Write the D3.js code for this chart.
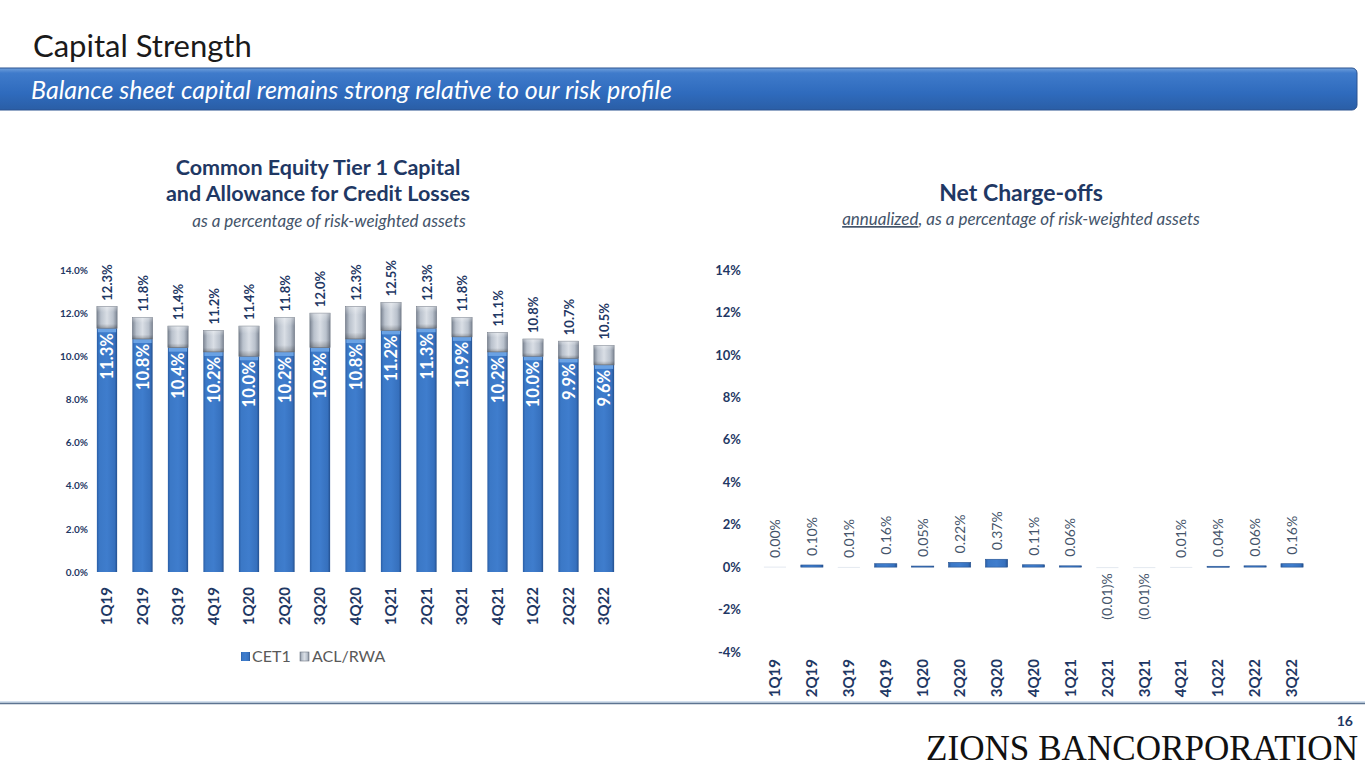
<!DOCTYPE html>
<html>
<head>
<meta charset="utf-8">
<script src="https://cdn.jsdelivr.net/npm/d3@7"></script>
<style>
  body { margin: 0; background: #fff; }
  svg { display: block; font-family: Lato, "Open Sans", sans-serif; }
</style>
</head>
<body>
<svg id="chart" width="1365" height="768"></svg>
<script>
// quarters shared by both charts
var quarters = ["1Q19","2Q19","3Q19","4Q19","1Q20","2Q20","3Q20","4Q20","1Q21","2Q21","3Q21","4Q21","1Q22","2Q22","3Q22"];
// CET1 ratio and ACL/RWA (%)
var cet1 = [11.3,10.8,10.4,10.2,10.0,10.2,10.4,10.8,11.2,11.3,10.9,10.2,10.0,9.9,9.6];
var aclRwa = [1.0,1.0,1.0,1.0,1.4,1.6,1.6,1.5,1.3,1.0,0.9,0.9,0.8,0.8,0.9];
// net charge-offs, annualized (%)
var nco = [0.00,0.10,0.01,0.16,0.05,0.22,0.37,0.11,0.06,-0.01,-0.01,0.01,0.04,0.06,0.16];
var leftTicks = [0,2,4,6,8,10,12,14];
var rightTicks = [-4,-2,0,2,4,6,8,10,12,14];

var navy = "#1f3864";
var svg = d3.select("#chart");
var defs = svg.append("defs");

// gradients for the bevelled bars
function hGrad(id, stops) {
  var g = defs.append("linearGradient").attr("id", id).attr("x1", 0).attr("x2", 1).attr("y1", 0).attr("y2", 0);
  stops.forEach(function(s) { g.append("stop").attr("offset", s[0]).attr("stop-color", s[1]); });
}
hGrad("blueGrad", [[0,"#2a5ea6"],[0.12,"#3b78c6"],[0.5,"#3f7dcd"],[0.88,"#3670bd"],[1,"#234f8e"]]);
hGrad("greyGrad", [[0,"#7d8694"],[0.2,"#b9c1cc"],[0.5,"#d9dee5"],[0.8,"#b9c1cc"],[1,"#7d8694"]]);
var vg = defs.append("linearGradient").attr("id", "greyShade").attr("x1", 0).attr("x2", 0).attr("y1", 0).attr("y2", 1);
vg.append("stop").attr("offset", 0).attr("stop-color", "#ffffff").attr("stop-opacity", 0.35);
vg.append("stop").attr("offset", 0.25).attr("stop-color", "#ffffff").attr("stop-opacity", 0);
vg.append("stop").attr("offset", 0.8).attr("stop-color", "#000000").attr("stop-opacity", 0);
vg.append("stop").attr("offset", 1).attr("stop-color", "#000000").attr("stop-opacity", 0.25);
var bb = defs.append("linearGradient").attr("id", "bannerGrad").attr("x1", 0).attr("x2", 0).attr("y1", 0).attr("y2", 1);
bb.append("stop").attr("offset", 0).attr("stop-color", "#6fa0dc");
bb.append("stop").attr("offset", 0.12).attr("stop-color", "#3f7bcb");
bb.append("stop").attr("offset", 0.6).attr("stop-color", "#2f6bbd");
bb.append("stop").attr("offset", 1).attr("stop-color", "#2a5ea6");

// page header
svg.append("text").attr("x", 33).attr("y", 57).attr("font-size", 31).attr("fill", "#1a1a1a").text("Capital Strength");
svg.append("rect").attr("x", -10).attr("y", 68).attr("width", 1367).attr("height", 42).attr("rx", 5)
  .attr("fill", "url(#bannerGrad)").attr("stroke", "#2a5290").attr("stroke-width", 1);
svg.append("text").attr("x", 31).attr("y", 99).attr("font-size", 25).attr("font-style", "italic")
  .attr("fill", "#fff").text("Balance sheet capital remains strong relative to our risk profile");

// ---------- left chart ----------
var xL = d3.scaleBand().domain(quarters).range([89.25, 621.75]).paddingInner(0.43).paddingOuter(0.215);
var yL = d3.scaleLinear().domain([0, 14]).range([572, 270]);

svg.append("text").attr("x", 318).attr("y", 175).attr("text-anchor", "middle").attr("font-size", 21.5)
  .attr("font-weight", "bold").attr("fill", navy).text("Common Equity Tier 1 Capital");
svg.append("text").attr("x", 318).attr("y", 201).attr("text-anchor", "middle").attr("font-size", 21.5)
  .attr("font-weight", "bold").attr("fill", navy).text("and Allowance for Credit Losses");
svg.append("text").attr("x", 329).attr("y", 227).attr("text-anchor", "middle").attr("font-size", 17)
  .attr("font-style", "italic").attr("fill", "#44546a").text("as a percentage of risk-weighted assets");

var yAxisL = svg.append("g").attr("transform", "translate(88,0)")
  .call(d3.axisLeft(yL).tickValues(leftTicks).tickSize(0).tickPadding(0).tickFormat(function(d) { return d3.format(".1f")(d) + "%"; }));
yAxisL.select(".domain").remove();
yAxisL.selectAll("text").attr("font-size", 10).attr("font-weight", "bold").attr("fill", navy).attr("font-family", "Lato");

var leftData = quarters.map(function(q, i) { return {q: q, cet1: cet1[i], acl: aclRwa[i], total: cet1[i] + aclRwa[i]}; });

var gL = svg.append("g");
gL.selectAll("rect.cet1").data(leftData).enter().append("rect").attr("class", "cet1")
  .attr("x", function(d) { return xL(d.q); }).attr("width", xL.bandwidth())
  .attr("y", function(d) { return yL(d.cet1); }).attr("height", function(d) { return yL(0) - yL(d.cet1); })
  .attr("fill", "url(#blueGrad)");
gL.selectAll("rect.cetTop").data(leftData).enter().append("rect").attr("class", "cetTop")
  .attr("x", function(d) { return xL(d.q) + 1; }).attr("width", xL.bandwidth() - 2)
  .attr("y", function(d) { return yL(d.cet1); }).attr("height", 4)
  .attr("fill", "#6aa2e4");
gL.selectAll("rect.acl").data(leftData).enter().append("rect").attr("class", "acl")
  .attr("x", function(d) { return xL(d.q); }).attr("width", xL.bandwidth())
  .attr("y", function(d) { return yL(d.total); }).attr("height", function(d) { return yL(d.cet1) - yL(d.total); })
  .attr("fill", "url(#greyGrad)").attr("stroke", "#6f7784").attr("stroke-width", 0.6);
gL.selectAll("rect.aclShade").data(leftData).enter().append("rect").attr("class", "aclShade")
  .attr("x", function(d) { return xL(d.q); }).attr("width", xL.bandwidth())
  .attr("y", function(d) { return yL(d.total); }).attr("height", function(d) { return yL(d.cet1) - yL(d.total); })
  .attr("fill", "url(#greyShade)");

// total labels above the bars
gL.selectAll("text.total").data(leftData).enter().append("text").attr("class", "total")
  .attr("transform", function(d) { return "translate(" + (xL(d.q) + xL.bandwidth() / 2 + 5) + "," + (yL(d.total) - 6) + ") rotate(-90)"; })
  .attr("font-size", 13).attr("font-weight", "bold").attr("fill", navy)
  .text(function(d) { return d3.format(".1f")(d.total) + "%"; });
// CET1 labels inside the bars
gL.selectAll("text.inner").data(leftData).enter().append("text").attr("class", "inner")
  .attr("transform", function(d) { return "translate(" + (xL(d.q) + xL.bandwidth() / 2 + 6) + "," + (yL(d.cet1) + 5) + ") rotate(-90)"; })
  .attr("text-anchor", "end").attr("font-size", 16.5).attr("font-weight", "bold").attr("fill", "#fff")
  .text(function(d) { return d3.format(".1f")(d.cet1) + "%"; });

var xAxisL = svg.append("g").attr("transform", "translate(0,583)")
  .call(d3.axisBottom(xL).tickSize(0).tickPadding(0));
xAxisL.select(".domain").remove();
xAxisL.selectAll("text").attr("transform", "rotate(-90)").attr("text-anchor", "end").attr("dy", "0.35em").attr("dx", 0).attr("y", 0).attr("x", -4)
  .attr("font-size", 15).attr("font-weight", "bold").attr("fill", navy).attr("font-family", "Lato");

// legend
var legend = svg.append("g").attr("transform", "translate(241,652)");
legend.append("rect").attr("x", 0).attr("y", 0).attr("width", 9).attr("height", 9).attr("fill", "url(#blueGrad)");
legend.append("text").attr("x", 11).attr("y", 10).attr("font-size", 16).attr("fill", "#595959").text("CET1");
legend.append("rect").attr("x", 59).attr("y", 0).attr("width", 9).attr("height", 9).attr("fill", "url(#greyGrad)").attr("stroke", "#6f7784").attr("stroke-width", 0.6);
legend.append("text").attr("x", 71).attr("y", 10).attr("font-size", 16).attr("fill", "#595959").text("ACL/RWA");

// ---------- right chart ----------
var xR = d3.scaleBand().domain(quarters).range([756.5, 1310.5]).paddingInner(0.4).paddingOuter(0.2);
var yR = d3.scaleLinear().domain([-4, 14]).range([652, 270]);

svg.append("text").attr("x", 1021).attr("y", 201).attr("text-anchor", "middle").attr("font-size", 23)
  .attr("font-weight", "bold").attr("fill", navy).text("Net Charge-offs");
var sub = svg.append("text").attr("x", 1021).attr("y", 225).attr("text-anchor", "middle").attr("font-size", 17)
  .attr("font-style", "italic").attr("fill", "#44546a");
sub.append("tspan").attr("text-decoration", "underline").text("annualized");
sub.append("tspan").text(", as a percentage of risk-weighted assets");

var yAxisR = svg.append("g").attr("transform", "translate(741,0)")
  .call(d3.axisLeft(yR).tickValues(rightTicks).tickSize(0).tickPadding(0).tickFormat(function(d) { return d + "%"; }));
yAxisR.select(".domain").remove();
yAxisR.selectAll("text").attr("font-size", 13).attr("font-weight", "bold").attr("fill", navy).attr("font-family", "Lato");

var rightData = quarters.map(function(q, i) { return {q: q, v: nco[i]}; });
var gR = svg.append("g");
gR.selectAll("rect.nco").data(rightData).enter().append("rect").attr("class", "nco")
  .attr("x", function(d) { return xR(d.q); }).attr("width", xR.bandwidth())
  .attr("y", function(d) { return yR(Math.max(d.v, 0)) - (d.v === 0 ? 0.5 : 0); })
  .attr("height", function(d) { return Math.max(Math.abs(yR(d.v) - yR(0)), 1); })
  .attr("fill", function(d) { return Math.abs(d.v) < 0.02 ? "#e4e9f0" : "url(#blueGrad)"; })
  .attr("stroke", function(d) { return Math.abs(d.v) < 0.02 ? "none" : "#24508f"; }).attr("stroke-width", 0.6);

gR.selectAll("text.nco").data(rightData).enter().append("text").attr("class", "nco")
  .attr("transform", function(d) {
    var yy = d.v >= 0 ? yR(Math.max(d.v, 0)) - 9 : yR(d.v) + 6;
    return "translate(" + (xR(d.q) + xR.bandwidth() / 2 + 5) + "," + yy + ") rotate(-90)";
  })
  .attr("text-anchor", function(d) { return d.v >= 0 ? "start" : "end"; })
  .attr("font-size", 14).attr("fill", "#44546a")
  .text(function(d) { return d.v < 0 ? "(" + d3.format(".2f")(-d.v) + ")%" : d3.format(".2f")(d.v) + "%"; });

var xAxisR = svg.append("g").attr("transform", "translate(0,656)")
  .call(d3.axisBottom(xR).tickSize(0).tickPadding(0));
xAxisR.select(".domain").remove();
xAxisR.selectAll("text").attr("transform", "rotate(-90)").attr("text-anchor", "end").attr("dy", "0.35em").attr("y", 0).attr("x", -3)
  .attr("font-size", 15).attr("font-weight", "bold").attr("fill", navy).attr("font-family", "Lato");

// ---------- footer ----------
svg.append("line").attr("x1", 0).attr("x2", 1365).attr("y1", 702).attr("y2", 702).attr("stroke", "#a9c1dc").attr("stroke-width", 1);
svg.append("line").attr("x1", 0).attr("x2", 1365).attr("y1", 703.5).attr("y2", 703.5).attr("stroke", "#5d7491").attr("stroke-width", 1.5);
svg.append("text").attr("x", 1353).attr("y", 726).attr("text-anchor", "end").attr("font-size", 14)
  .attr("font-weight", "bold").attr("fill", navy).text("16");
svg.append("text").attr("x", 926).attr("y", 760).attr("font-family", "'Liberation Serif', 'DejaVu Serif', serif")
  .attr("font-size", 35).attr("fill", "#111").attr("textLength", 432).attr("lengthAdjust", "spacingAndGlyphs")
  .text("ZIONS BANCORPORATION");
</script>
</body>
</html>
